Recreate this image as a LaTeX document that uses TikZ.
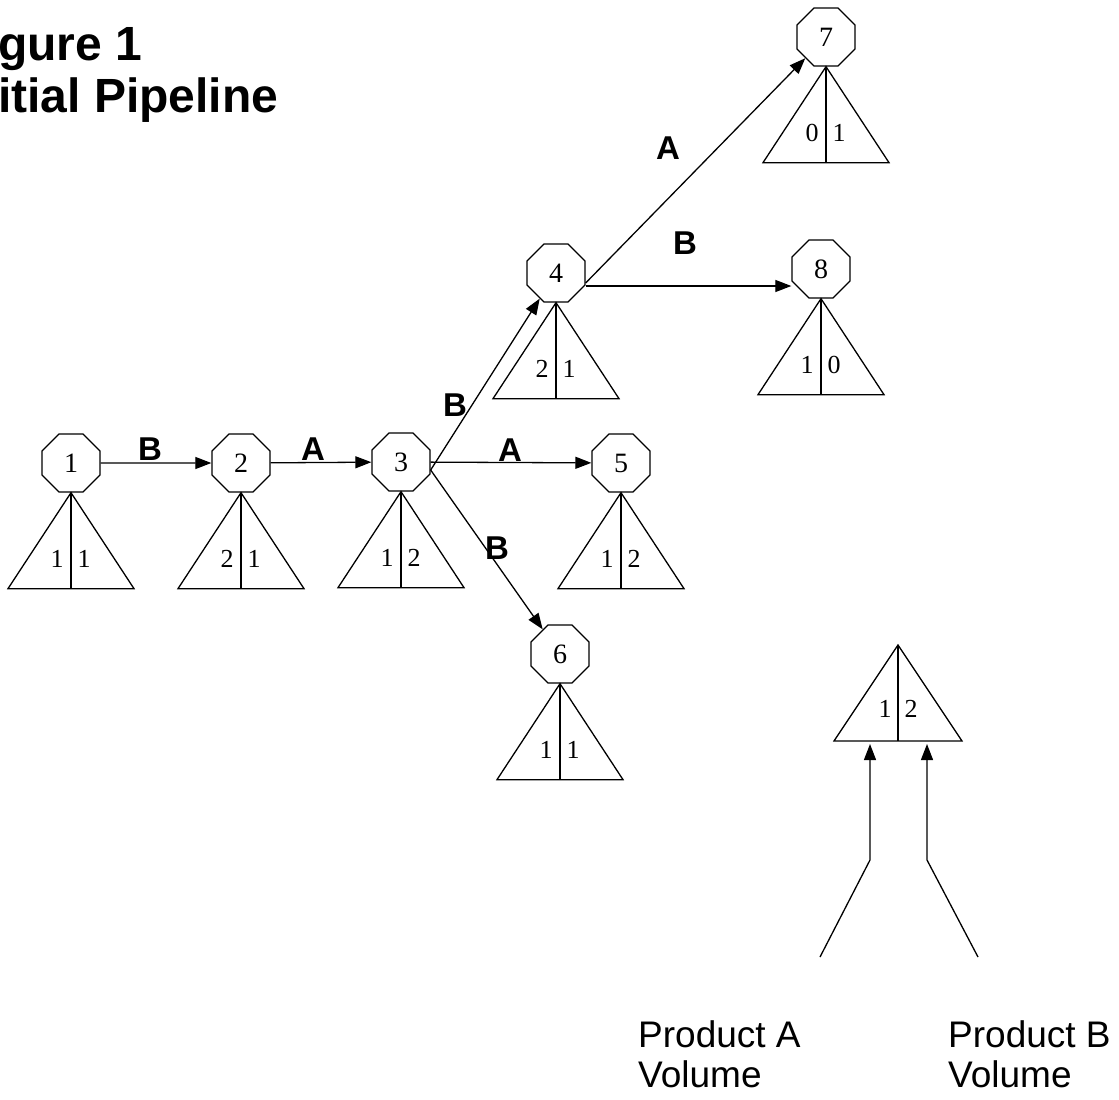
\documentclass[tikz,border=0pt]{standalone}
\usepackage{fontspec}
\setmainfont{Liberation Serif}
\setsansfont{Liberation Sans}
\usetikzlibrary{shapes.geometric,arrows.meta}
\tikzset{
  oct/.style={draw, regular polygon, regular polygon sides=8, minimum size=62.8pt, inner sep=0pt, line width=1.3pt, font=\fontsize{28}{30}\selectfont},
  num/.style={inner sep=0pt, font=\fontsize{26}{28}\selectfont},
  lbl/.style={inner sep=0pt, font=\sffamily\bfseries\fontsize{33}{36}\selectfont},
  ttl/.style={inner sep=0pt, anchor=base west, font=\sffamily\bfseries\fontsize{48}{52}\selectfont},
  prod/.style={inner sep=0pt, anchor=base west, font=\sffamily\fontsize{37}{40}\selectfont},
  arr/.style={line width=1.3pt, -{Triangle[length=16pt,width=12pt]}},
  ln/.style={line width=1.3pt},
}
\newcommand\tritree[3]{%
  \begin{scope}[shift={(#1.south)}]
    \draw[ln, line join=miter] (0,0) -- (-63,96) -- (63,96) -- cycle;
    \draw[ln] (0,0) -- (0,96);
    \node[num] (#1l) at (-14,66) {#2};
    \node[num] (#1r) at (13,66) {#3};
  \end{scope}}
\begin{document}
\begin{tikzpicture}[x=1pt,y=-1pt]
\useasboundingbox (0,0) rectangle (1119,1100);
\fill[white] (0,0) rectangle (1119,1100);

\node[ttl] (t1) at (-2,60) {gure 1};
\node[ttl] (t2) at (-2,112) {itial Pipeline};

\node[oct] (n1) at (71,463) {1};
\node[oct] (n2) at (241,463) {2};
\node[oct] (n3) at (401,462) {3};
\node[oct] (n4) at (556,273) {4};
\node[oct] (n5) at (621,463) {5};
\node[oct] (n6) at (560,654) {6};
\node[oct] (n7) at (826,37) {7};
\node[oct] (n8) at (821,269) {8};

\tritree{n1}{1}{1}
\tritree{n2}{2}{1}
\tritree{n3}{1}{2}
\tritree{n4}{2}{1}
\tritree{n5}{1}{2}
\tritree{n6}{1}{1}
\tritree{n7}{0}{1}
\tritree{n8}{1}{0}

\coordinate (s3) at ([yshift=-8pt]n3.east);
\coordinate (s48) at ([yshift=-13pt]n4.east);
\draw[arr] (n1) -- (n2);
\draw[arr] (n2) -- (n3);
\draw[arr] (n3) -- (n5);
\draw[arr] (s3) -- (n4);
\draw[arr] (s3) -- (n6);
\draw[arr] ([yshift=-10pt]n4.east) -- (n7);
\draw[arr] (s48) -- (s48 -| n8.west);

\node[lbl] (e12) at (150,449) {B};
\node[lbl] (e23) at (313,449) {A};
\node[lbl] (e35) at (510,450) {A};
\node[lbl] (e36) at (497,548) {B};
\node[lbl] (e34) at (455,405) {B};
\node[lbl] (e47) at (668,148) {A};
\node[lbl] (e48) at (685,243) {B};

% legend
\coordinate (lg) at (898,645);
\draw[ln, line join=miter] (lg) -- (834,741) -- (962,741) -- cycle;
\draw[ln] (lg) -- (898,741);
\node[num] (lgl) at (885,709) {1};
\node[num] (lgr) at (911,709) {2};
\coordinate (la0) at (820,957);
\coordinate (la1) at (870,860);
\coordinate (la2) at (870,744);
\coordinate (lb0) at (978,957);
\coordinate (lb1) at (927,860);
\coordinate (lb2) at (927,744);
\draw[arr] (la0) -- (la1) -- (la2);
\draw[arr] (lb0) -- (lb1) -- (lb2);

\node[prod] (pa1) at (638,1047) {Product A};
\node[prod] (pa2) at (638,1087) {Volume};
\node[prod] (pb1) at (948,1047) {Product B};
\node[prod] (pb2) at (948,1087) {Volume};
\end{tikzpicture}
\end{document}
